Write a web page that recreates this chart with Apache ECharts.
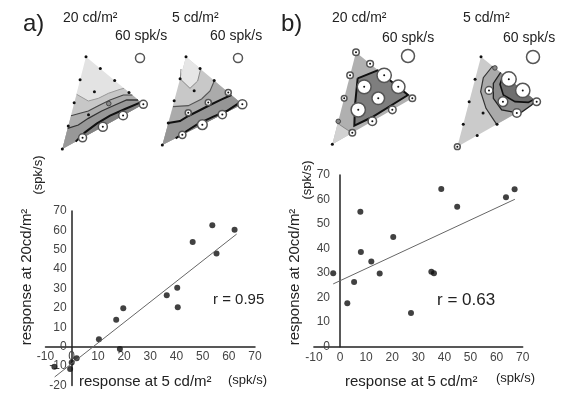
<!DOCTYPE html>
<html>
<head>
<meta charset="utf-8">
<script src="https://cdn.jsdelivr.net/npm/echarts@6/dist/echarts.min.js"></script>
<style>
  html, body { margin: 0; padding: 0; background: #fff; }
  #chart { width: 561px; height: 394px; }
</style>
</head>
<body>
<div id="chart"></div>
<script>
// ---- scatter data: [response at 5 cd/m2, response at 20 cd/m2] (spk/s)
const pointsA = [[-6.6, -10.3], [0, -8.2], [-0.6, -11.5], [1.9, -6], [10.4, 3.8], [18.4, -1.2],
  [17, 13.9], [19.7, 19.8], [36.3, 26.5], [40.3, 30.4], [40.5, 20.3], [46.2, 54],
  [53.7, 62.6], [55.3, 48.1], [62.2, 60.3]]
const fitA = [[-6.5, -15.6], [63, 58.1]]
const pointsB = [[-2.6, 29.9], [2.8, 17.7], [5.4, 26.4], [7.8, 55], [8, 38.6], [12, 34.7],
  [15.2, 29.8], [20.4, 44.7], [27.2, 13.7], [35, 30.6], [36, 29.9], [38.8, 64.3],
  [44.9, 57.1], [63.6, 60.9], [66.9, 64.2]]
const fitB = [[-2.6, 25.6], [67, 60.1]]
const xRange = [-10, 70]
const yRangeA = [-20, 70]
const yRangeB = [0, 70]
const tickStep = 10

// ---- response maps: triangle corners T, R, B (local units), node responses row by row
const cornersA20 = [[93, 35], [265, 178], [22, 312]]
const respA20 = [0, 0, 0, 2, 53, 0, 0, 20, 58, 0, 10, 60, 0, 53, 0]
const cornersA5 = [[93, 35], [262, 178], [22, 300]]
const respA5 = [0, 0, 0, 40, 60, 0, 0, 40, 55, 0, 40, 65, 0, 48, 0]
const cornersB20 = [[93, 22], [262, 160], [22, 298]]
const respB20 = [30, 31, 66, 62, 30, 30, 64, 58, 35, 26, 66, 39, 18, 30, 14]
const cornersB5 = [[93, 35], [260, 170], [22, 305]]
const respB5 = [3, 20, 68, 66, 35, 5, 36, 45, 39, 8, 8, 12, 3, 0, 27]

// contour regions (local units)
const bandsA20 = [
  cornersA20,
  [[65, 148], [100, 168], [130, 160], [160, 145], [195, 133], [207, 130], [265, 178], [22, 312]],
  [[48, 212], [75, 205], [100, 198], [130, 182], [165, 165], [205, 150], [232, 150], [265, 178], [22, 312]],
  [[38, 250], [70, 240], [100, 220], [140, 198], [180, 180], [215, 165], [249, 165], [265, 178], [22, 312]],
  [[62, 290], [90, 262], [125, 236], [165, 212], [210, 192], [257, 172], [265, 178]]
]
const linesA20 = [
  [[65, 148], [100, 168], [130, 160], [160, 145], [195, 133], [207, 130]],
  [[48, 212], [75, 205], [100, 198], [130, 182], [165, 165], [205, 150], [232, 150]],
  [[38, 250], [70, 240], [100, 220], [140, 198], [180, 180], [215, 165], [249, 165]],
  [[62, 290], [90, 262], [125, 236], [165, 212], [210, 192], [257, 172]]
]
const bandsA5 = [
  cornersA5,
  [[93, 35], [137, 72], [128, 108], [105, 130], [76, 102], [84, 70]],
  [[54, 185], [100, 182], [140, 162], [165, 138], [178, 107], [262, 178], [22, 300]],
  [[40, 234], [75, 228], [100, 213], [130, 198], [165, 180], [200, 163], [229, 150], [262, 178], [22, 300]],
  [[62, 280], [95, 258], [130, 236], [175, 215], [215, 198], [255, 172], [262, 178]]
]
const linesA5 = [
  [[137, 72], [128, 108], [105, 130], [76, 102], [78, 72]],
  [[54, 185], [100, 182], [140, 162], [165, 138], [178, 107]],
  [[40, 234], [75, 228], [100, 213], [130, 198], [165, 180], [200, 163], [229, 150]],
  [[62, 280], [95, 258], [130, 236], [175, 215], [215, 198], [255, 172]]
]
const bandsB20 = [
  cornersB20,
  [[38, 235], [60, 250], [82, 264], [22, 298]],
  [[98, 100], [158, 76], [249, 150], [142, 216], [88, 242], [90, 180]]
]
const linesB20 = [
  [[38, 235], [60, 250], [82, 264]],
  [[98, 100], [158, 76], [249, 150], [142, 216], [88, 242], [90, 180], [98, 100]]
]
const bandsB5 = [
  cornersB5,
  [[128, 63], [260, 170], [140, 238], [108, 190], [92, 140], [100, 98]],
  [[152, 82], [130, 115], [130, 160], [155, 195], [210, 205], [245, 180], [256, 167]],
  [[160, 90], [150, 118], [160, 150], [195, 170], [235, 172], [252, 163]]
]
const linesB5 = [
  [[128, 63], [100, 98], [92, 140], [108, 190], [140, 238]],
  [[152, 82], [130, 115], [130, 160], [155, 195], [210, 205], [245, 180], [256, 167]],
  [[160, 90], [150, 118], [160, 150], [195, 170], [235, 172], [252, 163]]
]

// styles for the maps
const fillsA20 = ['#e3e3e3', '#c7c7c7', '#adadad', '#989898', '#828282']
const strokesA20 = [['#999', 1], ['#444', 1.1], ['#333', 1.3], ['#111', 2]]
const fillsA5 = ['#c8c8c8', '#e6e6e6', '#ababab', '#959595', '#808080']
const strokesA5 = [['#888', 1], ['#555', 1.1], ['#111', 2], ['#111', 2]]
const fillsB20 = ['#b0b0b0', '#d2d2d2', '#7e7e7e']
const strokesB20 = [['#888', 1], ['#111', 2]]
const fillsB5 = ['#cbcbcb', '#aaaaaa', '#8c8c8c', '#6e6e6e']
const strokesB5 = [['#333', 1.2], ['#222', 1.3], ['#111', 1.6]]

const maps = [
  { corners: cornersA20, resp: respA20, bands: bandsA20, fills: fillsA20, lines: linesA20, strokes: strokesA20, scale: 9 / 60, grid: [55, 45] },
  { corners: cornersA5, resp: respA5, bands: bandsA5, fills: fillsA5, lines: linesA5, strokes: strokesA5, scale: 9 / 60, grid: [155, 45] },
  { corners: cornersB20, resp: respB20, bands: bandsB20, fills: fillsB20, lines: linesB20, strokes: strokesB20, scale: 13 / 60, grid: [325, 45] },
  { corners: cornersB5, resp: respB5, bands: bandsB5, fills: fillsB5, lines: linesB5, strokes: strokesB5, scale: 13 / 60, grid: [450, 45] }
]

// nodes of the triangular lattice (5 + 4 + 3 + 2 + 1)
function lattice (corners, resp) {
  const [T, R, B] = corners
  const out = []
  let n = 0
  for (let k = 0; k < 5; k++) {
    for (let i = 0; i < 5 - k; i++) {
      out.push([
        T[0] + i * (R[0] - T[0]) / 4 + k * (B[0] - T[0]) / 4,
        T[1] + i * (R[1] - T[1]) / 4 + k * (B[1] - T[1]) / 4,
        resp[n++]
      ])
    }
  }
  return out
}

const FONT = '"Liberation Sans", Arial, sans-serif'
const chart = echarts.init(document.getElementById('chart'))

// the plots' axes cross at zero: move each axis there with offset
const grids = [
  { left: 45.5, top: 211, width: 209.5, height: 174.5 },
  { left: 313.9, top: 175, width: 208.8, height: 171.7 }
]
const xAxes = []
const yAxes = []
const axisStyle = {
  axisLine: { onZero: false, lineStyle: { color: '#222', width: 1.5 } },
  axisTick: { show: false },
  splitLine: { show: false }
}
xAxes.push(Object.assign({ type: 'value', gridIndex: 0, min: xRange[0], max: xRange[1], interval: tickStep, offset: -38.8,
  axisLabel: { color: '#444', fontSize: 12, margin: 4, fontFamily: FONT } }, axisStyle))
yAxes.push(Object.assign({ type: 'value', gridIndex: 0, min: yRangeA[0], max: yRangeA[1], interval: tickStep, offset: -26.2,
  axisLabel: { color: '#444', fontSize: 12, margin: 5, fontFamily: FONT } }, axisStyle))
xAxes.push(Object.assign({ type: 'value', gridIndex: 1, min: xRange[0], max: xRange[1], interval: tickStep,
  axisLabel: { color: '#444', fontSize: 12, margin: 5, fontFamily: FONT } }, axisStyle))
yAxes.push(Object.assign({ type: 'value', gridIndex: 1, min: yRangeB[0], max: yRangeB[1], interval: tickStep, offset: -26.1,
  axisLabel: { color: '#444', fontSize: 12, margin: 10, fontFamily: FONT } }, axisStyle))

const series = [
  { type: 'line', xAxisIndex: 0, yAxisIndex: 0, data: fitA, showSymbol: false, lineStyle: { color: '#666', width: 1 } },
  { type: 'scatter', xAxisIndex: 0, yAxisIndex: 0, data: pointsA, symbolSize: 6, itemStyle: { color: '#111' } },
  { type: 'line', xAxisIndex: 1, yAxisIndex: 1, data: fitB, showSymbol: false, lineStyle: { color: '#666', width: 1 } },
  { type: 'scatter', xAxisIndex: 1, yAxisIndex: 1, data: pointsB, symbolSize: 6, itemStyle: { color: '#111' } }
]

maps.forEach((m, idx) => {
  const g = idx + 2
  grids.push({ left: m.grid[0], top: m.grid[1], width: 100, height: 110 })
  xAxes.push({ type: 'value', gridIndex: g, min: 0, max: 300, show: false, splitLine: { show: false } })
  yAxes.push({ type: 'value', gridIndex: g, min: 0, max: 330, inverse: true, show: false, splitLine: { show: false } })
  series.push({
    type: 'custom', xAxisIndex: g, yAxisIndex: g, silent: true,
    data: m.bands.map((b, i) => [0, 0, i]),
    renderItem: (params, api) => ({
      type: 'polygon',
      shape: { points: m.bands[params.dataIndex].map(p => api.coord(p)) },
      style: { fill: m.fills[params.dataIndex] }
    })
  })
  series.push({
    type: 'custom', xAxisIndex: g, yAxisIndex: g, silent: true,
    data: m.lines.map((b, i) => [0, 0, i]),
    renderItem: (params, api) => ({
      type: 'polyline',
      shape: { points: m.lines[params.dataIndex].map(p => api.coord(p)) },
      style: { fill: null, stroke: m.strokes[params.dataIndex][0], lineWidth: m.strokes[params.dataIndex][1] }
    })
  })
  series.push({
    type: 'custom', xAxisIndex: g, yAxisIndex: g, silent: true,
    data: lattice(m.corners, m.resp),
    renderItem: (params, api) => {
      const p = api.coord([api.value(0), api.value(1)])
      const v = api.value(2)
      if (v < 16) {
        return { type: 'circle', shape: { cx: p[0], cy: p[1], r: 1.5 }, style: { fill: '#111' } }
      }
      if (v < 25) {
        return { type: 'circle', shape: { cx: p[0], cy: p[1], r: 2.3 }, style: { fill: '#8a8a8a', stroke: '#333', lineWidth: 0.8 } }
      }
      return {
        type: 'group',
        children: [
          { type: 'circle', shape: { cx: p[0], cy: p[1], r: v * m.scale / 2 }, style: { fill: '#fff', stroke: '#555', lineWidth: 1.5 } },
          { type: 'circle', shape: { cx: p[0], cy: p[1], r: 1 }, style: { fill: '#111' } }
        ]
      }
    }
  })
})

function txt (text, x, y, size) {
  return {
    type: 'text', x: x, y: y, silent: true,
    style: { text: text, font: size + 'px ' + FONT, fill: '#222', align: 'left', verticalAlign: 'middle',
      textAlign: 'left', textVerticalAlign: 'middle' }
  }
}
function rtxt (text, x, y, size) {
  return {
    type: 'text', x: x, y: y, rotation: Math.PI / 2, silent: true,
    style: { text: text, font: size + 'px ' + FONT, fill: '#222', align: 'center', verticalAlign: 'middle',
      textAlign: 'center', textVerticalAlign: 'middle' }
  }
}
function legendCircle (x, y, d) {
  return { type: 'circle', silent: true, shape: { cx: x, cy: y, r: d / 2 }, style: { fill: '#fff', stroke: '#555', lineWidth: 1.5 } }
}

const graphic = [
  txt('a)', 23, 24, 24),
  txt('20 cd/m²', 63, 18, 14),
  txt('5 cd/m²', 172, 18, 14),
  txt('60 spk/s', 115, 36, 14),
  txt('60 spk/s', 210, 36, 14),
  legendCircle(140, 58, 60 * maps[0].scale),
  legendCircle(238, 58, 60 * maps[1].scale),
  txt('b)', 281, 24, 24),
  txt('20 cd/m²', 332, 18, 14),
  txt('5 cd/m²', 463, 18, 14),
  txt('60 spk/s', 382, 38, 14),
  txt('60 spk/s', 503, 38, 14),
  legendCircle(408, 56, 60 * maps[2].scale),
  legendCircle(533, 57, 60 * maps[3].scale),
  rtxt('response at 20cd/m²', 27, 277, 15),
  rtxt('(spk/s)', 38, 175, 13),
  txt('response at 5 cd/m²', 79, 382, 15),
  txt('(spk/s)', 228, 380, 13),
  txt('r = 0.95', 213, 300, 15),
  rtxt('response at 20cd/m²', 295, 277, 15),
  rtxt('(spk/s)', 307, 180, 13),
  txt('response at 5 cd/m²', 345, 382, 15),
  txt('(spk/s)', 496, 378, 13),
  txt('r = 0.63', 437, 300, 17)
]

chart.setOption({
  animation: false,
  textStyle: { fontFamily: FONT },
  grid: grids,
  xAxis: xAxes,
  yAxis: yAxes,
  series: series,
  graphic: graphic
})
</script>
</body>
</html>
